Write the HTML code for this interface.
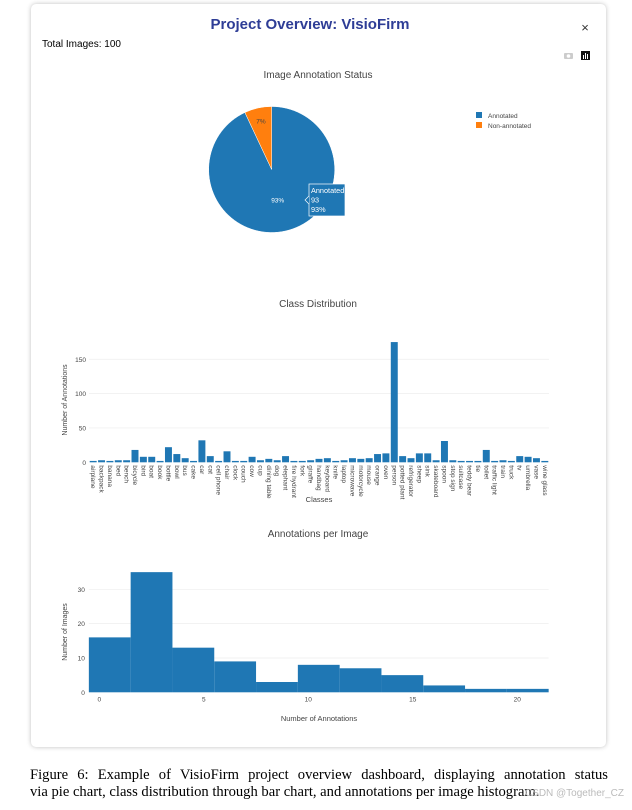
<!DOCTYPE html>
<html><head><meta charset="utf-8">
<style>
body{margin:0;width:632px;height:810px;background:#fff;font-family:"Liberation Sans",sans-serif;position:relative;overflow:hidden}
#card{position:absolute;left:31px;top:4px;width:575px;height:743px;background:#fff;border-radius:5px;box-shadow:0 0 5px rgba(0,0,0,0.25)}
#caption{position:absolute;left:30px;top:767px;width:578px;font-family:"Liberation Serif",serif;font-size:14.6px;line-height:17px;color:#000;white-space:nowrap}
#caption .l1{text-align:justify;text-align-last:justify}
#wm{position:absolute;right:8px;top:788px;font-size:10px;color:#bbb}
</style></head><body>
<div id="card"></div>
<svg id="chart" width="632" height="760" style="position:absolute;left:0;top:0" font-family="Liberation Sans, sans-serif">
<text x="310" y="29" text-anchor="middle" font-size="15" font-weight="bold" fill="#2e3d96">Project Overview: VisioFirm</text>
<text x="585" y="32" text-anchor="middle" font-size="13" fill="#333">×</text>
<text x="42" y="47" font-size="10" fill="#000">Total Images: 100</text>
<g><rect x="564" y="53" width="9" height="6" rx="1" fill="#ccc"/><circle cx="568.5" cy="56" r="1.8" fill="#fff"/></g>
<g><rect x="581" y="51" width="9" height="9" fill="#111"/><rect x="583" y="55" width="1" height="4" fill="#fff"/><rect x="585" y="53" width="1" height="6" fill="#fff"/><rect x="587" y="54" width="1" height="5" fill="#fff"/></g>
<text x="318" y="78" text-anchor="middle" font-size="10" fill="#444">Image Annotation Status</text>
<g id="pie"></g>
<g>
<rect x="476" y="112" width="6" height="6" fill="#1f77b4"/>
<text x="488" y="118" font-size="6.5" fill="#444">Annotated</text>
<rect x="476" y="122" width="6" height="6" fill="#ff7f0e"/>
<text x="488" y="128" font-size="6.5" fill="#444">Non-annotated</text>
</g>
<text x="318" y="307" text-anchor="middle" font-size="10" fill="#444">Class Distribution</text>
<g id="bars"></g>
<text x="318" y="537" text-anchor="middle" font-size="10" fill="#444">Annotations per Image</text>
<g id="hist"></g>
</svg>
<div id="caption"><div class="l1">Figure 6: Example of VisioFirm project overview dashboard, displaying annotation status</div><div>via pie chart, class distribution through bar chart, and annotations per image histogram.</div></div>
<div id="wm">CSDN @Together_CZ</div>
<script>
const pieLabels=["Annotated","Non-annotated"];
const pieValues=[93,7];
const classes=["airplane","backpack","banana","bed","bench","bicycle","bird","boat","book","bottle","bowl","bus","cake","car","cat","cell phone","chair","clock","couch","cow","cup","dining table","dog","elephant","fire hydrant","fork","giraffe","handbag","keyboard","knife","laptop","microwave","motorcycle","mouse","orange","oven","person","potted plant","refrigerator","sheep","sink","skateboard","spoon","stop sign","suitcase","teddy bear","tie","toilet","traffic light","train","truck","tv","umbrella","vase","wine glass"];
const classCounts=[2,3,2,3,3,18,8,8,2,22,12,6,2,32,9,2,16,2,2,8,3,5,3,9,2,2,3,5,6,2,3,6,5,6,12,13,175,9,6,13,13,3,31,3,2,2,2,18,2,3,2,9,8,6,2];
const barTicks=[0,50,100,150];
const histEdges=[-0.5,1.5,3.5,5.5,7.5,9.5,11.5,13.5,15.5,17.5,19.5,21.5];
const histCounts=[16,35,13,9,3,8,7,5,2,1,1];
const histXTicks=[0,5,10,15,20];
const histYTicks=[0,10,20,30];
const NS="http://www.w3.org/2000/svg";
function mk(p,t,a){const e=document.createElementNS(NS,t);for(const k in a)e.setAttribute(k,a[k]);p.appendChild(e);return e;}
// pie
const pie=document.getElementById('pie');
const cx=271.7,cy=169.5,R=63;
const tot=pieValues.reduce((a,b)=>a+b,0);
const cols=["#1f77b4","#ff7f0e"];
let ang=0;
pieValues.forEach((v,i)=>{
 const a0=ang,a1=ang+v/tot*2*Math.PI;ang=a1;
 const p=(a)=>[cx+R*Math.sin(a),cy-R*Math.cos(a)];
 const s=p(a0),e=p(a1);const large=(a1-a0)>Math.PI?1:0;
 const path=mk(pie,'path',{d:`M${cx},${cy}L${s[0]},${s[1]}A${R},${R} 0 ${large} 1 ${e[0]},${e[1]}Z`,fill:cols[i],stroke:'#fff','stroke-width':0.5});
 
 
 const mid=(a0+a1)/2;const rr=0.78;
 const lx=i==0?cx+6:cx+R*rr*Math.sin(mid);
 const ly=i==0?cy+31:cy-R*rr*Math.cos(mid);
 const t=mk(pie,'text',{x:lx,y:ly+2,'text-anchor':'middle','font-size':6.5,fill:i==0?'#fff':'#444'});
 t.textContent=Math.round(v/tot*100)+'%';
 
 
});
// tooltip
const tip=mk(pie,'g',{});


mk(tip,'rect',{x:309,y:184,width:36,height:32,fill:'#1f77b4',stroke:'#fff','stroke-width':0.7});
mk(tip,'path',{d:'M309,196 L305,200 L309,204',fill:'#1f77b4',stroke:'#fff','stroke-width':0.7});
[pieLabels[0],String(pieValues[0]),Math.round(pieValues[0]/tot*100)+'%'].forEach((s,i)=>{const t=mk(tip,'text',{x:311,y:193+i*9.5,'font-size':7.3,fill:'#fff'});t.textContent=s;});
// bars
const bars=document.getElementById('bars');
const bx0=89,bx1=549,by0=462.3;const bpx=0.687;
const bY=v=>by0-v*bpx;const bw=(bx1-bx0)/classes.length;
barTicks.forEach(t=>{
 if(t>0){const l=mk(bars,'line',{x1:bx0,x2:bx1,y1:bY(t),y2:bY(t),stroke:'#eee','stroke-width':0.7});}
 const tx=mk(bars,'text',{x:bx0-3,y:bY(t)+2.5,'text-anchor':'end','font-size':6.5,fill:'#444'});tx.textContent=t;
 
});
classes.forEach((c,i)=>{
 const x=bx0+i*bw;
 const r=mk(bars,'rect',{x:x+0.7,y:bY(classCounts[i]),width:bw-1.4,height:classCounts[i]*bpx,fill:'#1f77b4'});
 
 
 const tx=mk(bars,'text',{transform:`translate(${x+bw/2-2},${by0+3}) rotate(90)`,'font-size':6.5,fill:'#444'});tx.textContent=c;
 
});
let t=mk(bars,'text',{x:319,y:502,'text-anchor':'middle','font-size':7.5,fill:'#444'});t.textContent='Classes';

t=mk(bars,'text',{transform:`translate(67,400) rotate(-90)`,'text-anchor':'middle','font-size':7,fill:'#444'});t.textContent='Number of Annotations';

// histogram
const hist=document.getElementById('hist');
const hx0=99.3,hpx=20.9,hy0=692.3,hpy=3.433;
const hX=v=>hx0+v*hpx,hY=v=>hy0-v*hpy;
histYTicks.forEach(v=>{
 if(v>0){const l=mk(hist,'line',{x1:hX(-0.5),x2:hX(21.5),y1:hY(v),y2:hY(v),stroke:'#eee','stroke-width':0.7});}
 const tx=mk(hist,'text',{x:hX(-0.5)-4,y:hY(v)+2.5,'text-anchor':'end','font-size':6.5,fill:'#444'});tx.textContent=v;
 
});
histCounts.forEach((v,i)=>{
 const r=mk(hist,'rect',{x:hX(histEdges[i]),y:hY(v),width:hX(histEdges[i+1])-hX(histEdges[i]),height:v*hpy,fill:'#1f77b4'});
 
 
});
histXTicks.forEach(v=>{
 const tx=mk(hist,'text',{x:hX(v),y:hy0+9,'text-anchor':'middle','font-size':6.5,fill:'#444'});tx.textContent=v;
 
});
t=mk(hist,'text',{x:319,y:721,'text-anchor':'middle','font-size':7.5,fill:'#444'});t.textContent='Number of Annotations';

t=mk(hist,'text',{transform:`translate(67,632) rotate(-90)`,'text-anchor':'middle','font-size':7,fill:'#444'});t.textContent='Number of Images';

</script>
</body></html>
